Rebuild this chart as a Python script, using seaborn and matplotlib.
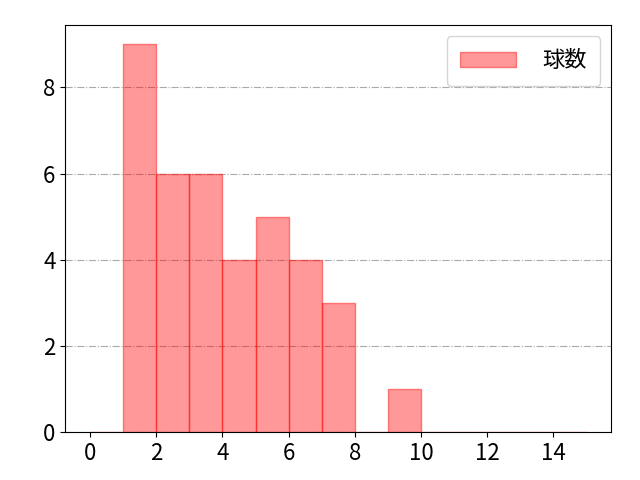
import numpy as np
import seaborn as sns
import matplotlib.pyplot as plt

plt.rcParams['font.family'] = ['Noto Sans CJK JP', 'DejaVu Sans']

# Histogram bins (left edges) and counts
bin_lefts = list(range(0, 15))
counts = [0, 9, 6, 6, 4, 5, 4, 3, 0, 1, 0, 0, 0, 0, 0]
label = '球数'

fig, ax = plt.subplots(figsize=(6.4, 4.8), dpi=100)
sns.histplot(x=bin_lefts, weights=counts, bins=list(range(0, 16)),
             color='red', alpha=0.4, edgecolor=(1, 0, 0, 0.45), linewidth=1,
             label=label, ax=ax)

ax.set_axisbelow(True)
ax.grid(axis='y', linestyle='-.', color='#aaaaaa', linewidth=0.8)
ax.set_xlabel('')
ax.set_ylabel('')
ax.set_xticks(range(0, 15, 2))
ax.set_yticks(range(0, 9, 2))
ax.tick_params(labelsize=16)
ax.legend(fontsize=16, handlelength=2.5, handletextpad=1.2, borderpad=0.6)

fig.subplots_adjust(left=0.102, right=0.955, top=0.948, bottom=0.1)
fig.savefig('out.png')
